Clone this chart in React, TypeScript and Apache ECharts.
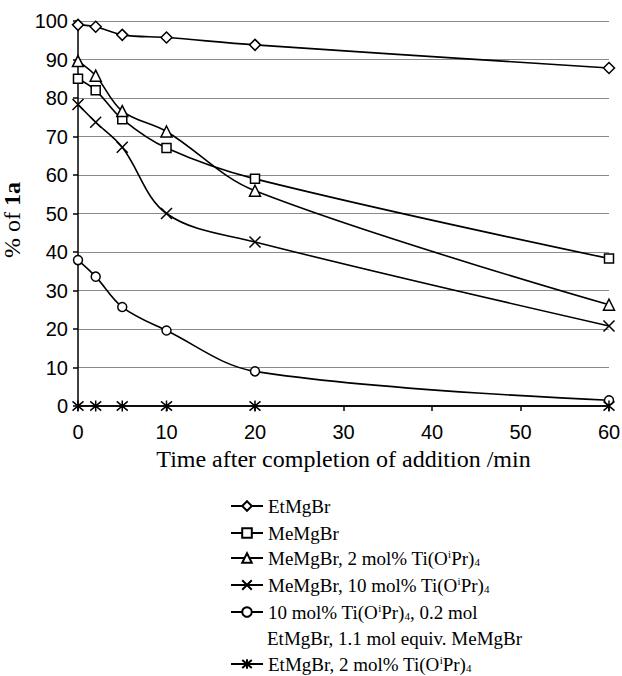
import React, { useEffect, useRef } from "react";
import * as echarts from "echarts";

const times = [0, 2, 5, 10, 20, 60];
const etMgBr = [99, 98.5, 96.4, 95.7, 93.8, 87.8];
const meMgBr = [85, 82, 74.5, 67, 59, 38.3];
const meTi2 = [89.6, 85.8, 76.6, 71.3, 55.9, 26.3];
const meTi10 = [78.3, 73.7, 67.2, 50, 42.6, 20.8];
const mixed = [37.9, 33.6, 25.7, 19.6, 9, 1.5];
const etTi2 = [0, 0, 0, 0, 0, 0];

const seriesNames = [
  "EtMgBr",
  "MeMgBr",
  "MeMgBr, 2 mol% Ti(OiPr)4",
  "MeMgBr, 10 mol% Ti(OiPr)4",
  "10 mol% Ti(OiPr)4, 0.2 mol",
  "EtMgBr, 2 mol% Ti(OiPr)4",
];
const legendRich: Record<string, string> = {
  "EtMgBr": "{n|EtMgBr}",
  "MeMgBr": "{n|MeMgBr}",
  "MeMgBr, 2 mol% Ti(OiPr)4": "{n|MeMgBr, 2 mol% Ti(O}{sup|i}{n|Pr)}{sub|4}",
  "MeMgBr, 10 mol% Ti(OiPr)4": "{n|MeMgBr, 10 mol% Ti(O}{sup|i}{n|Pr)}{sub|4}",
  "10 mol% Ti(OiPr)4, 0.2 mol": "{n|10 mol% Ti(O}{sup|i}{n|Pr)}{sub|4}{n|, 0.2 mol}",
  "EtMgBr, 2 mol% Ti(OiPr)4": "{n|EtMgBr, 2 mol% Ti(O}{sup|i}{n|Pr)}{sub|4}",
};
const continuationLine = "EtMgBr, 1.1 mol equiv. MeMgBr";
const xTicks = { min: 0, max: 60, interval: 10 };
const yTicks = { min: 0, max: 100, interval: 10 };

const SERIF = "'Liberation Serif', 'Times New Roman', serif";
const SANS = "'Liberation Sans', Arial, sans-serif";

const crossPath = "path://M0,0L10,10M10,0L0,10";
const starPath = "path://M0,0L10,10M10,0L0,10M5,-1L5,11";

export default function App() {
  const ref = useRef<HTMLDivElement>(null);
  useEffect(() => {
    if (!ref.current) return;
    const chart = echarts.init(ref.current, undefined, { renderer: "svg" });
    const mk = (name: string, data: number[], symbol: string, size: number) => ({
      name,
      type: "line",
      data: times.map((t, i) => [t, data[i]]),
      smooth: 0.35,
      symbol,
      symbolSize: size,
      showAllSymbol: true,
      lineStyle: { color: "#000", width: 1.6 },
      itemStyle: { color: "#fff", borderColor: "#000", borderWidth: 1.5 },
      emphasis: { disabled: true },
      z: 3,
    });
    const rowCenters = [504, 531, 558, 585, 612, 664];
    const legends = seriesNames.map((nm, i) => ({
      orient: "vertical",
      left: 230,
      top: rowCenters[i] - 9.5 + (i < 2 ? 2 : 0),
      padding: 0,
      itemWidth: 32,
      itemHeight: 12,
      itemGap: 0,
      selectedMode: false,
      data: [nm],
      formatter: (name: string) => legendRich[name] || name,
      textStyle: {
        fontFamily: SERIF,
        fontSize: 19,
        color: "#000",
        lineHeight: 19,
        rich: {
          n: { fontFamily: SERIF, fontSize: 19, color: "#000", lineHeight: 19 },
          sup: { fontFamily: SERIF, fontSize: 11, color: "#000", verticalAlign: "top", lineHeight: 19 },
          sub: { fontFamily: SERIF, fontSize: 11, color: "#000", verticalAlign: "bottom", lineHeight: 19 },
        },
      },
    }));
    chart.setOption({
      animation: false,
      backgroundColor: "#fff",
      grid: { left: 78, right: 13, top: 21, bottom: 270, containLabel: false, outerBoundsMode: "none" },
      xAxis: {
        type: "value",
        ...xTicks,
        name: "Time after completion of addition /min",
        nameLocation: "middle",
        nameGap: 41,
        nameTextStyle: { fontFamily: SERIF, fontSize: 24, color: "#000" },
        axisLine: { show: true, lineStyle: { color: "#000", width: 1.5 } },
        axisTick: { show: true, length: 5, lineStyle: { color: "#000", width: 1.5 } },
        axisLabel: { fontFamily: SANS, fontSize: 20, color: "#000", margin: 16 },
        splitLine: { show: false },
      },
      yAxis: {
        type: "value",
        ...yTicks,
        name: "{a|% of }{b|1a}",
        nameLocation: "middle",
        nameGap: 42,
        nameRotate: 90,
        nameTextStyle: {
          padding: [0, 13, 0, 0],
          rich: {
            a: { fontFamily: SERIF, fontSize: 24, color: "#000" },
            b: { fontFamily: SERIF, fontSize: 24, color: "#000", fontWeight: "bold" },
          },
        },
        axisLine: { show: true, lineStyle: { color: "#000", width: 1.5 } },
        axisTick: { show: true, length: 5, lineStyle: { color: "#000", width: 1.5 } },
        axisLabel: { fontFamily: SANS, fontSize: 20, color: "#000", margin: 10 },
        splitLine: { show: true, lineStyle: { color: "#8a8a8a", width: 1 } },
      },
      legend: legends,
      graphic: [
        {
          type: "text",
          left: 267,
          top: 629,
          style: { text: continuationLine, font: `19px ${SERIF}`, fill: "#000" },
        },
      ],
      series: [
        mk(seriesNames[0], etMgBr, "diamond", 11),
        mk(seriesNames[1], meMgBr, "rect", 9),
        mk(seriesNames[2], meTi2, "triangle", 11),
        mk(seriesNames[3], meTi10, crossPath, 11),
        mk(seriesNames[4], mixed, "circle", 9),
        { ...mk(seriesNames[5], etTi2, starPath, 11), z: 4 },
      ],
    });
    return () => chart.dispose();
  }, []);
  return (
    <div
      ref={ref}
      style={{ position: "absolute", left: 0, top: 0, width: 622, height: 676 }}
    />
  );
}
